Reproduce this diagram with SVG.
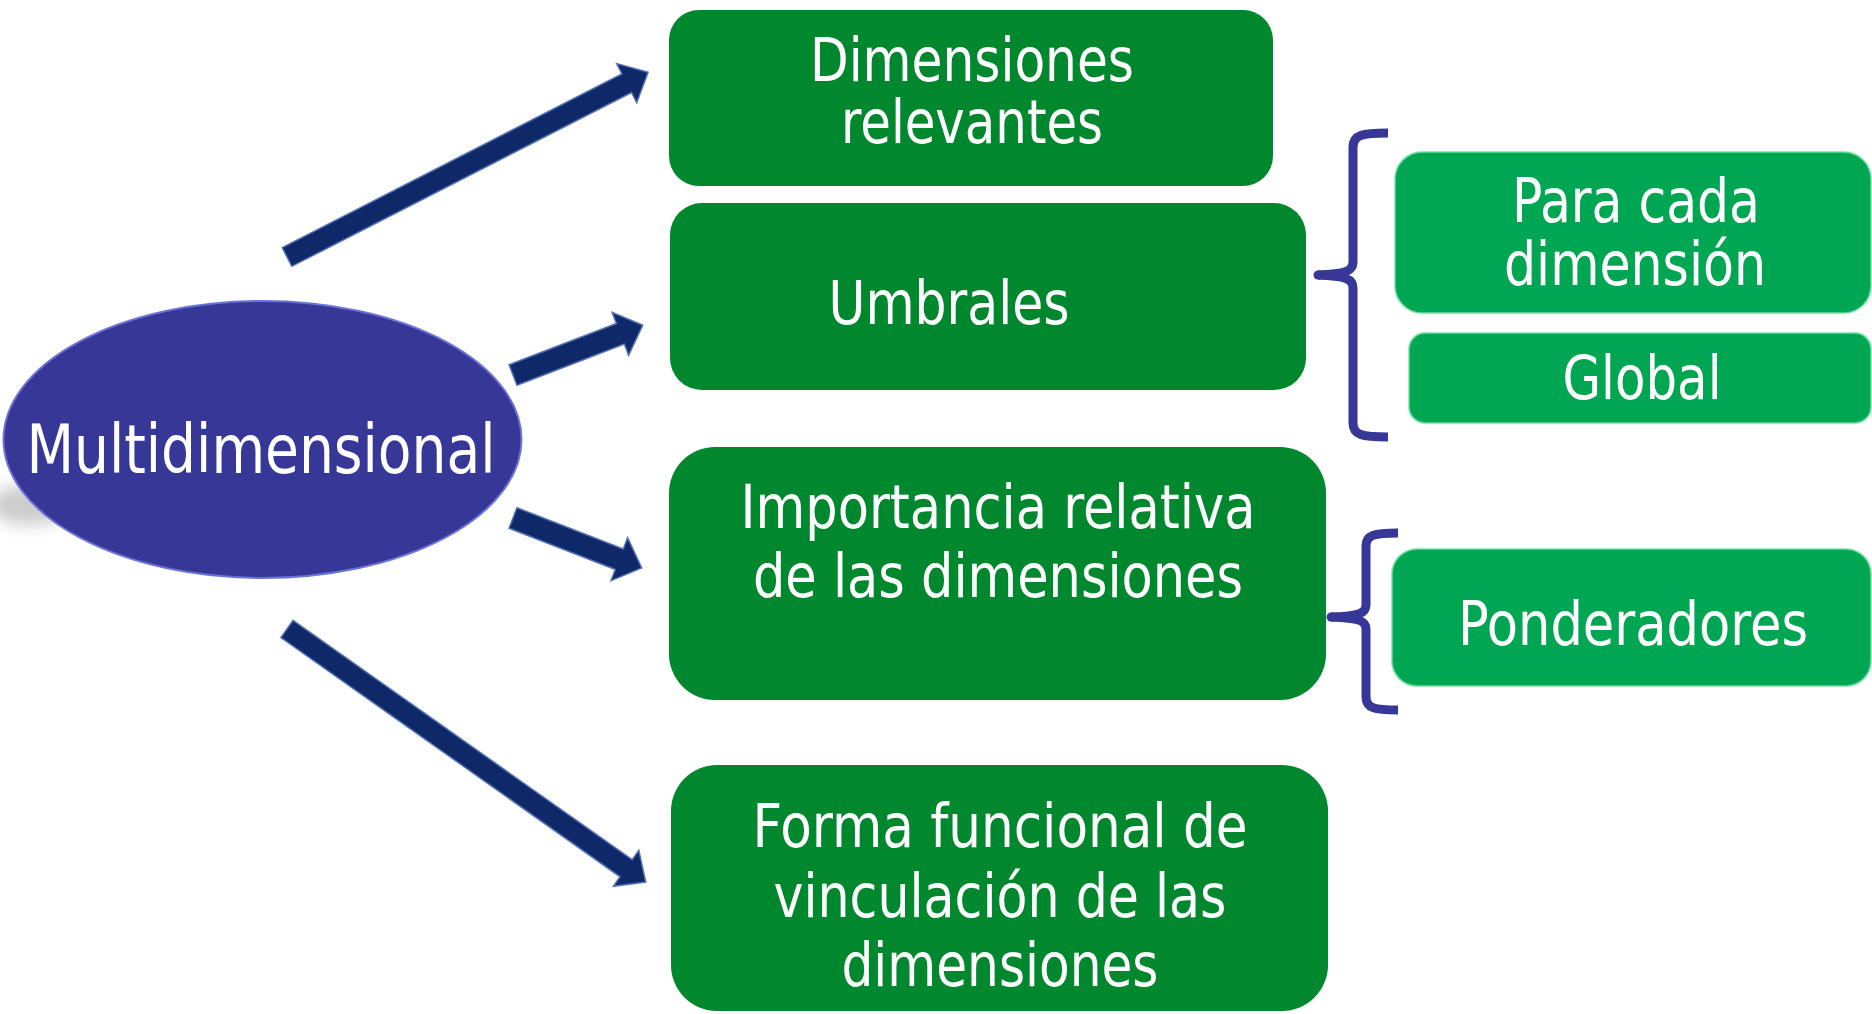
<svg xmlns="http://www.w3.org/2000/svg" width="1872" height="1014" viewBox="0 0 1872 1014">
<style>
.dk{fill:#01872E;}
.lt{fill:#00A651;stroke:#6FE0A2;stroke-width:2;stroke-opacity:0.7;}
.t{font-family:"DejaVu Sans Condensed","DejaVu Sans",sans-serif;font-size:60px;fill:#FFFFFF;text-anchor:middle;}
.big{font-size:67px;}
.arr{fill:#0E2868;stroke:#5571B5;stroke-width:1.5;stroke-linejoin:miter;}
.br{fill:none;stroke:#373797;stroke-width:9;}
</style>
<defs>
<filter id="blur" x="-50%" y="-50%" width="200%" height="200%"><feGaussianBlur stdDeviation="8"/></filter>
</defs>
<rect width="1872" height="1014" fill="#FFFFFF"/>
<g id="connectors">
<polygon class="arr" transform="translate(287,257) rotate(-27.1)" points="0,-10.5 381.6,-10.5 381.6,-22 405.6,0 381.6,22 381.6,10.5 0,10.5"/>
<polygon class="arr" transform="translate(513,375) rotate(-21)" points="0,-11 115,-11 115,-23 139,0 115,23 115,11 0,11"/>
<polygon class="arr" transform="translate(513,518) rotate(21.2)" points="0,-11 114,-11 114,-23 138,0 114,23 114,11 0,11"/>
<polygon class="arr" transform="translate(287,629) rotate(35.2)" points="0,-10.5 415,-10.5 415,-22 439,0 415,22 415,10.5 0,10.5"/>
<path class="br" d="M1388,133 C1362,133 1353,135 1353,147 L1353,262 C1353,271 1346,274 1318,275"/>
<path class="br" d="M1318,275 C1346,276 1353,279 1353,288 L1353,423 C1353,435 1362,437 1388,437" />
<circle cx="1318" cy="275" r="4.5" fill="#373797"/>
<path class="br" d="M1398,533 C1374,533 1366,535 1366,546 L1366,605 C1366,613 1360,616 1331,617"/>
<path class="br" d="M1331,617 C1360,618 1366,621 1366,629 L1366,697 C1366,708 1374,710 1398,710"/>
<circle cx="1331" cy="617" r="4.5" fill="#373797"/>
</g>
<g id="multidimensional">
<ellipse cx="30" cy="505" rx="40" ry="20" fill="#9a9a9a" opacity="0.5" filter="url(#blur)"/>
<ellipse cx="262.5" cy="439.5" rx="259" ry="138.5" fill="#373797" stroke="#6B74D6" stroke-width="2"/>
<text class="t big" x="261" y="473" textLength="469" lengthAdjust="spacingAndGlyphs">Multidimensional</text>
</g>
<g id="dimensiones-relevantes">
<rect class="dk" x="669" y="10" width="604" height="176" rx="30"/>
<text class="t" x="972" y="81" textLength="324" lengthAdjust="spacingAndGlyphs">Dimensiones</text>
<text class="t" x="972" y="143" textLength="262" lengthAdjust="spacingAndGlyphs">relevantes</text>
</g>
<g id="umbrales">
<rect class="dk" x="670" y="203" width="636" height="187" rx="32"/>
<text class="t" x="949" y="324" textLength="241" lengthAdjust="spacingAndGlyphs">Umbrales</text>
</g>
<g id="importancia">
<rect class="dk" x="669" y="447" width="657" height="253" rx="46"/>
<text class="t" x="998" y="528" textLength="515" lengthAdjust="spacingAndGlyphs">Importancia relativa</text>
<text class="t" x="998" y="597" textLength="490" lengthAdjust="spacingAndGlyphs">de las dimensiones</text>
</g>
<g id="forma-funcional">
<rect class="dk" x="671" y="765" width="657" height="246" rx="46"/>
<text class="t" x="1000" y="847" textLength="495" lengthAdjust="spacingAndGlyphs">Forma funcional de</text>
<text class="t" x="1000" y="917" textLength="453" lengthAdjust="spacingAndGlyphs">vinculación de las</text>
<text class="t" x="1000" y="986" textLength="317" lengthAdjust="spacingAndGlyphs">dimensiones</text>
</g>
<g id="para-cada-dimension">
<rect class="lt" x="1395" y="152" width="476" height="161" rx="27"/>
<text class="t" x="1636" y="222" textLength="248" lengthAdjust="spacingAndGlyphs">Para cada</text>
<text class="t" x="1635" y="285" textLength="262" lengthAdjust="spacingAndGlyphs">dimensión</text>
</g>
<g id="global">
<rect class="lt" x="1409" y="333" width="462" height="90" rx="16"/>
<text class="t" x="1642" y="399" textLength="159" lengthAdjust="spacingAndGlyphs">Global</text>
</g>
<g id="ponderadores">
<rect class="lt" x="1392" y="549" width="479" height="137" rx="25"/>
<text class="t" x="1633" y="645" textLength="350" lengthAdjust="spacingAndGlyphs">Ponderadores</text>
</g>
</svg>
